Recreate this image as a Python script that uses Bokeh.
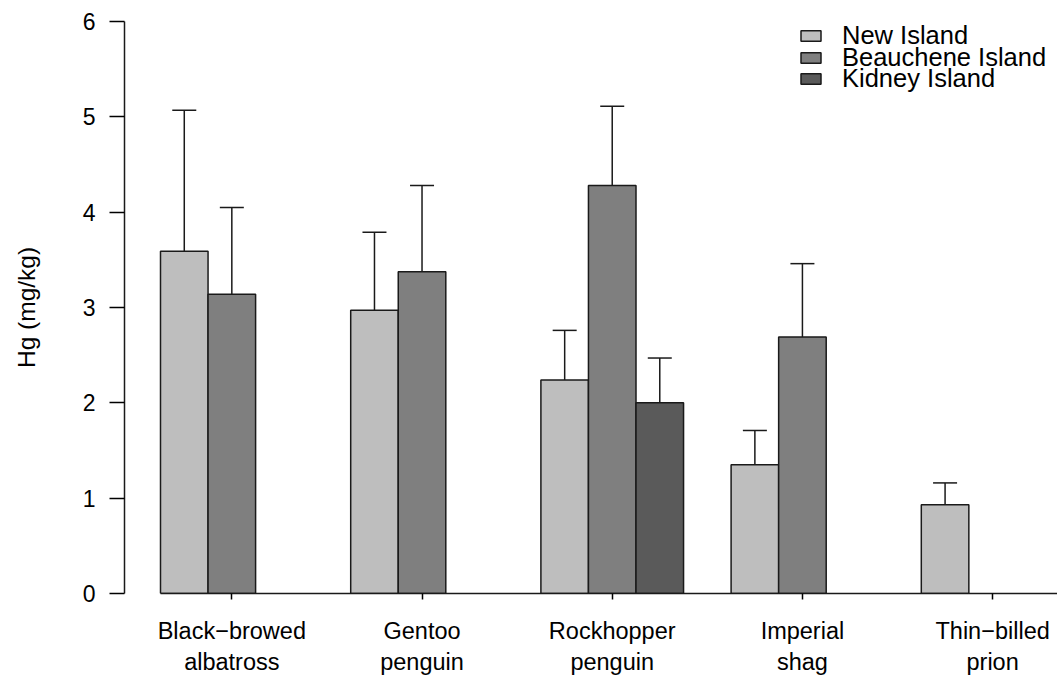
from bokeh.plotting import figure
from bokeh.models import (ColumnDataSource, Range1d, FixedTicker, Whisker, TeeHead,
                          Legend, LegendItem)
from bokeh.embed import file_html
from bokeh.resources import INLINE
import math

# ---- data ----
species = ["Black\u2212browed\nalbatross", "Gentoo\npenguin", "Rockhopper\npenguin",
           "Imperial\nshag", "Thin\u2212billed\nprion"]
islands = ["New Island", "Beauchene Island", "Kidney Island"]
new_mean = [3.59, 2.97, 2.24, 1.35, 0.93]
new_upper = [5.07, 3.79, 2.76, 1.71, 1.16]
beau_mean = [3.14, 3.375, 4.28, 2.69, float("nan")]
beau_upper = [4.05, 4.28, 5.11, 3.46, float("nan")]
kid_mean = [float("nan"), float("nan"), 2.00, float("nan"), float("nan")]
kid_upper = [float("nan"), float("nan"), 2.47, float("nan"), float("nan")]
colors = ["#BEBEBE", "#7F7F7F", "#5A5A5A"]
y_ticks = [0, 1, 2, 3, 4, 5, 6]

FONT = "Liberation Sans"

p = figure(width=1057, height=677, output_backend="svg", toolbar_location=None,
           x_range=Range1d(1 - 36 / 47.55, 1 + 897 / 47.55), y_range=Range1d(0, 6),
           min_border_left=124, min_border_right=0, min_border_top=21, min_border_bottom=83)
p.outline_line_color = None
p.xgrid.visible = False
p.ygrid.visible = False
p.background_fill_color = "white"
p.border_fill_color = "white"

series = [(new_mean, new_upper), (beau_mean, beau_upper), (kid_mean, kid_upper)]
renderers = []
for j, (means, uppers) in enumerate(series):
    xs, tops, ups = [], [], []
    for i, (m, u) in enumerate(zip(means, uppers)):
        if not math.isnan(m):
            xs.append(1 + 4 * i + j + 0.5)
            tops.append(m)
            ups.append(u)
    src = ColumnDataSource(dict(x=xs, top=tops, upper=ups))
    r = p.vbar(x="x", top="top", bottom=0, width=1, source=src,
               fill_color=colors[j], line_color="#1a1a1a", line_width=1.5)
    renderers.append(r)
    w = Whisker(source=src, base="x", upper="upper", lower="top", dimension="height",
                line_color="#1a1a1a", line_width=1.5,
                upper_head=TeeHead(size=24, line_color="#1a1a1a", line_width=1.5),
                lower_head=None)
    p.add_layout(w)

# axes
centers = [1 + 4 * i + 1.5 for i in range(len(species))]
xa = p.xaxis[0]
xa.ticker = FixedTicker(ticks=centers)
xa.major_label_overrides = {c: s for c, s in zip(centers, species)}
xa.bounds = (1, 1 + 897 / 47.55)
xa.minor_tick_line_color = None
xa.major_tick_in = 0
xa.major_tick_out = 6
xa.major_label_standoff = 18
xa.major_label_text_font = FONT
xa.major_label_text_font_size = "23.5px"
xa.major_label_text_color = "black"
xa.major_label_text_line_height = 1.2
xa.axis_line_color = "#1a1a1a"
xa.axis_line_width = 1.5
xa.major_tick_line_width = 1.5

ya = p.yaxis[0]
ya.ticker = FixedTicker(ticks=y_ticks)
ya.bounds = (0, 6)
ya.minor_tick_line_color = None
ya.major_tick_in = 0
ya.major_tick_out = 15
ya.major_label_standoff = 14
ya.major_label_orientation = "horizontal"
ya.major_label_text_font = FONT
ya.major_label_text_font_size = "23px"
ya.major_label_text_color = "black"
ya.axis_line_color = "#1a1a1a"
ya.axis_line_width = 1.5
ya.major_tick_line_width = 1.5
ya.axis_label = "Hg (mg/kg)"
ya.axis_label_text_font = FONT
ya.axis_label_text_font_size = "24.5px"
ya.axis_label_text_font_style = "normal"
ya.axis_label_text_color = "black"
ya.axis_label_standoff = 40

# legend: one compact Legend per item so rows can sit close together like R's legend
legend_bottoms = [543, 521.5, 500]
for k in range(3):
    lg = Legend(items=[LegendItem(label=islands[k], renderers=[renderers[k]])],
                location=(674, legend_bottoms[k]), margin=0, padding=0, spacing=0,
                label_text_font=FONT, label_text_font_size="25.5px", label_text_color="black",
                label_height=20, glyph_width=25, glyph_height=13, label_standoff=19,
                border_line_color=None, background_fill_alpha=0)
    p.add_layout(lg)

open("out.html", "w").write(file_html(p, INLINE))
